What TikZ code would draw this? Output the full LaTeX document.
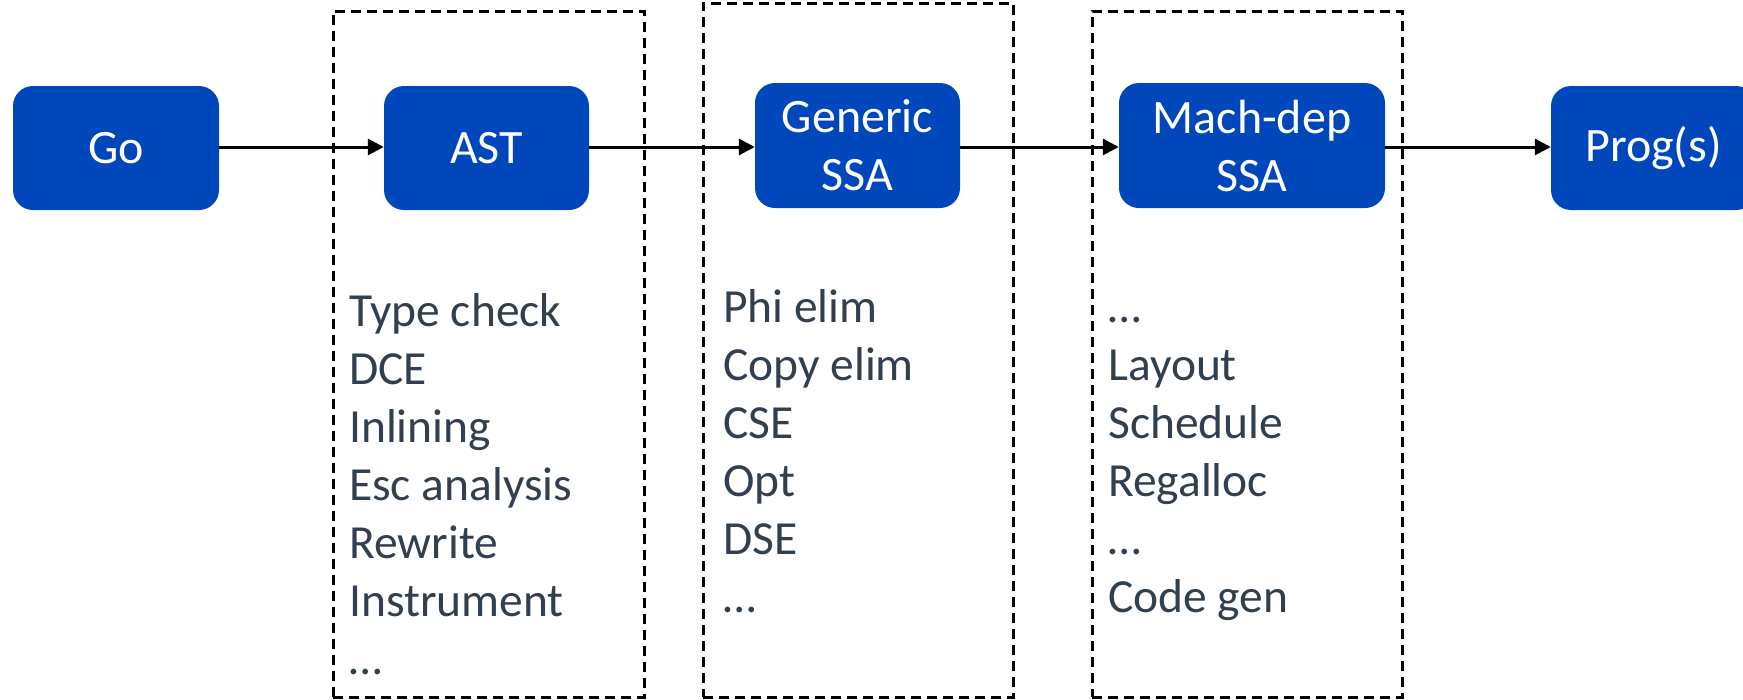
\documentclass[tikz,border=0pt]{standalone}
\usepackage{fontspec}
\setmainfont{Carlito}
\usetikzlibrary{arrows.meta}
\definecolor{boxblue}{RGB}{0,71,187}
\definecolor{listgray}{RGB}{50,63,79}
\tikzset{
  stagebox/.style={draw=none, fill=boxblue, rounded corners=20pt, text=white,
    align=center, inner sep=0pt, minimum height=124pt,
    font=\fontsize{48}{58}\selectfont},
  passbox/.style={draw=black, line width=3pt, dash pattern=on 10pt off 6pt,
    inner sep=0pt},
  passlist/.style={anchor=base west, align=left, inner sep=0pt, text=listgray,
    font=\fontsize{47.5}{58}\selectfont},
  flow/.style={line width=3pt, -{Triangle[length=16pt,width=16pt]}}
}
\begin{document}
\begin{tikzpicture}[x=1pt,y=-1pt]
\useasboundingbox (0,0) rectangle (1743,699);
\clip (0,0) rectangle (1743,699);
% dashed pass groups
\node[passbox, minimum width=311pt, minimum height=686pt] (g1) at (488.5,354) {};
\node[passbox, minimum width=310pt, minimum height=694pt] (g2) at (858,350) {};
\node[passbox, minimum width=310pt, minimum height=686pt] (g3) at (1247,354) {};
% stages
\node[stagebox, minimum width=206pt] (go) at (116,148) {Go};
\node[stagebox, minimum width=205pt] (ast) at (486.5,148) {AST};
\node[stagebox, minimum width=205pt, minimum height=125pt] (gen) at (857.5,145.5) {Generic\\SSA};
\node[stagebox, minimum width=266pt, minimum height=125pt] (mach) at (1252,145.5) {Mach-dep\\SSA};
\node[stagebox, minimum width=205pt] (prog) at (1653.5,148) {Prog(s)};
% connectors
\draw[flow] (go.east |- 0,147) -- (ast.west |- 0,147);
\draw[flow] (ast.east |- 0,147) -- (gen.west |- 0,147);
\draw[flow] (gen.east |- 0,147) -- (mach.west |- 0,147);
\draw[flow] (mach.east |- 0,147) -- (prog.west |- 0,147);
% pass lists (anchor = baseline of last line)
\node[passlist] (l1) at (349,674) {Type check\\DCE\\Inlining\\Esc analysis\\Rewrite\\Instrument\\\dots};
\node[passlist] (l2) at (723,612) {Phi elim\\Copy elim\\CSE\\Opt\\DSE\\\dots};
\node[passlist] (l3) at (1108,612) {\dots\\Layout\\Schedule\\Regalloc\\\dots\\Code gen};
\end{tikzpicture}
\end{document}
